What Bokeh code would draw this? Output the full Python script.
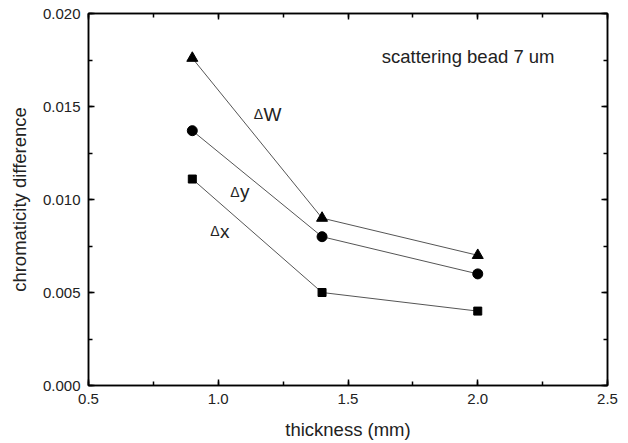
from bokeh.plotting import figure
from bokeh.models import LinearAxis, Range1d, PrintfTickFormatter, CustomJSTickFormatter, Label
from bokeh.embed import file_html
from bokeh.resources import INLINE

thickness = [0.9, 1.4, 2.0]
dW = [0.0176, 0.0090, 0.0070]
dy = [0.0137, 0.0080, 0.0060]
dx = [0.0111, 0.0050, 0.0040]

FONT = "Liberation Sans"

p = figure(width=628, height=443, output_backend="svg", toolbar_location=None,
           x_range=Range1d(0.5, 2.5), y_range=Range1d(0.0, 0.020),
           min_border_left=88, min_border_right=21, min_border_top=13, min_border_bottom=58)
p.xgrid.visible = False
p.ygrid.visible = False
p.outline_line_color = "black"
p.outline_line_width = 1.5
p.background_fill_color = "white"
p.border_fill_color = "white"

def style(ax, labels=True):
    ax.axis_line_width = 1.5
    ax.axis_line_color = "black"
    ax.major_tick_in = 6
    ax.major_tick_out = 0
    ax.minor_tick_in = 4
    ax.minor_tick_out = 0
    ax.major_tick_line_width = 1.5
    ax.minor_tick_line_width = 1.5
    ax.major_label_text_font = FONT
    ax.major_label_text_font_size = "15px"
    ax.major_label_text_color = "#222222"
    ax.axis_label_text_font = FONT
    ax.axis_label_text_font_size = "18.5px"
    ax.axis_label_text_font_style = "normal"
    ax.axis_label_text_color = "#222222"
    if not labels:
        ax.formatter = CustomJSTickFormatter(code="return ''")
        ax.major_label_standoff = 0

p.xaxis.ticker.num_minor_ticks = 2
p.yaxis.ticker.num_minor_ticks = 2
style(p.xaxis[0])
style(p.yaxis[0])
p.xaxis.formatter = PrintfTickFormatter(format="%.1f")
p.yaxis.formatter = PrintfTickFormatter(format="%.3f")
p.xaxis.axis_label = "thickness (mm)"
p.yaxis.axis_label = "chromaticity difference"
p.xaxis.major_label_standoff = 8
p.yaxis.major_label_standoff = 8
p.xaxis.axis_label_standoff = 12
p.yaxis.axis_label_standoff = 10

top = LinearAxis()
right = LinearAxis()
style(top, False)
style(right, False)
top.ticker.num_minor_ticks = 2
right.ticker.num_minor_ticks = 2
p.add_layout(top, "above")
p.add_layout(right, "right")

lc = "#555555"
p.line(thickness, dW, line_color=lc, line_width=1)
p.line(thickness, dy, line_color=lc, line_width=1)
p.line(thickness, dx, line_color=lc, line_width=1)
p.scatter(thickness, dW, marker="triangle", size=11, color="black")
p.scatter(thickness, dy, marker="circle", size=10, color="black")
p.scatter(thickness, dx, marker="square", size=8, color="black")

series_labels = [("W", 1.1744, 0.01457), ("y", 1.0838, 0.01043), ("x", 1.0067, 0.00828)]
for t, x, y in series_labels:
    p.add_layout(Label(x=x, y=y, text="Δ", text_font=FONT, text_font_size="14px",
                       text_align="right", text_baseline="alphabetic", text_color="#222222",
                       x_offset=-0.5))
    p.add_layout(Label(x=x, y=y, text=t, text_font=FONT, text_font_size="19px",
                       text_align="left", text_baseline="alphabetic", text_color="#222222"))
p.add_layout(Label(x=1.63, y=0.0177, text="scattering bead 7 um", text_font=FONT,
                   text_font_size="18.5px", text_baseline="middle", text_color="#222222"))

open("out.html", "w").write(file_html(p, INLINE))
